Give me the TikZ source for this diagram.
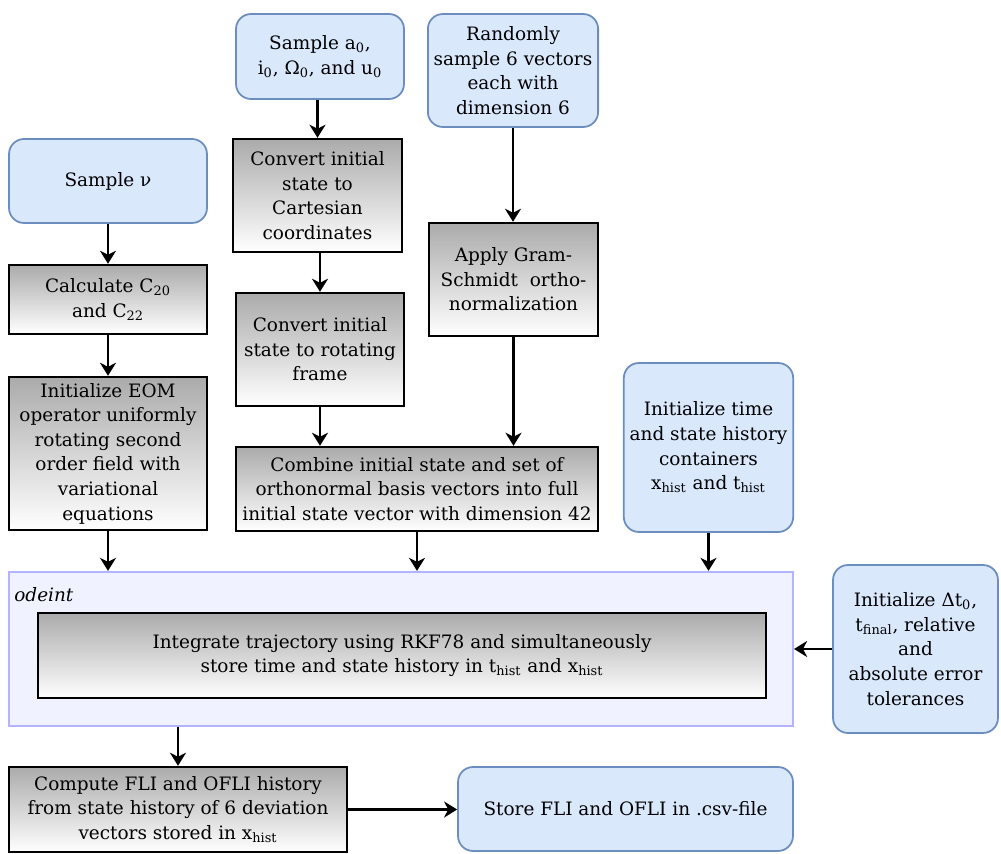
\documentclass[tikz,border=0pt]{standalone}
\usepackage{fontspec}
\setmainfont{DejaVu Serif}
\usepackage{xcolor}
\usepackage{tikz}
\usetikzlibrary{arrows.meta, positioning}
\definecolor{sampleblue}{HTML}{DAE8FC}
\definecolor{sampleedge}{HTML}{6C8EBF}
\definecolor{loopfill}{HTML}{F0F3FF}
\definecolor{loopedge}{HTML}{B3B3FF}
\tikzset{
flow/.style={-{Stealth[length=2.6mm, width=3.2mm, inset=0.8mm]}, line width=1.5pt}, % directed connectors
inputbox/.style={rounded corners=0.3cm, fill=sampleblue, draw=sampleedge, line width=1pt, align=center, font=\fontsize{10.5}{14}\selectfont}, % sampling / initialization steps
stepbox/.style={rectangle, top color=black!33, bottom color=white, draw=black, line width=1.4pt, align=center, font=\fontsize{10.5}{14}\selectfont}, % processing steps
loopbox/.style={rectangle, fill=loopfill, draw=loopedge, line width=1.3pt}, % integrator container
}

\begin{document}
\begin{tikzpicture}[x=0.02cm, y=-0.02cm]
    \useasboundingbox (0,0) rectangle (1001,854);

    % left column
    \node[inputbox, minimum width=3.96cm, minimum height=1.68cm] (sampleNu) at (108,181) {Sample ν};
    \node[stepbox, minimum width=3.96cm, minimum height=1.38cm] (calcC) at (108,299.5) {Calculate C\textsubscript{20}\\ and C\textsubscript{22}};
    \node[stepbox, minimum width=3.96cm, minimum height=3.06cm] (initEOM) at (108,453.5) {Initialize EOM\\ operator uniformly\\ rotating second\\ order field with\\ variational\\ equations};

    % middle columns
    \node[inputbox, minimum width=3.36cm, minimum height=1.7cm] (sampleA) at (320,56.5) {Sample a\textsubscript{0},\\ i\textsubscript{0}, Ω\textsubscript{0}, and u\textsubscript{0}};
    \node[stepbox, minimum width=3.38cm, minimum height=2.26cm] (convCart) at (317.5,195.5) {Convert initial\\ state to\\ Cartesian\\ coordinates};
    \node[stepbox, minimum width=3.36cm, minimum height=2.26cm] (convRot) at (320,349.5) {Convert initial\\ state to rotating\\ frame};
    \node[inputbox, minimum width=3.36cm, minimum height=2.26cm] (randVec) at (513,70.5) {Randomly\\ sample 6 vectors\\ each with\\ dimension 6};
    \node[stepbox, minimum width=3.38cm, minimum height=2.26cm] (gram) at (513.5,279.5) {Apply Gram-\\ Schmidt~ ortho-\\ normalization};
    \node[stepbox, minimum width=7.24cm, minimum height=1.68cm] (combine) at (417,489) {Combine initial state and set of\\ orthonormal basis vectors into full\\ initial state vector with dimension 42};

    % right column
    \node[inputbox, minimum width=3.38cm, minimum height=3.38cm] (initTime) at (708.5,447.5) {Initialize time\\ and state history\\ containers\\ x\textsubscript{hist} and t\textsubscript{hist}};

    % integrator
    \node[loopbox, minimum width=15.68cm, minimum height=3.08cm] (odeint) at (401,649) {};
    \node[anchor=north west, font=\fontsize{10.5}{14}\selectfont\itshape, inner sep=0pt] (odeintLabel) at (14,587) {odeint};
    \node[stepbox, minimum width=14.56cm, minimum height=1.7cm] (integ) at (402,655.5) {Integrate trajectory using RKF78 and simultaneously\\ store time and state history in t\textsubscript{hist} and x\textsubscript{hist}};
    \node[inputbox, minimum width=3.3cm, minimum height=3.36cm] (initDt) at (915.5,649) {Initialize Δt\textsubscript{0},\\ t\textsubscript{final}, relative\\ and\\ absolute error\\ tolerances};

    % output
    \node[stepbox, minimum width=6.76cm, minimum height=1.7cm] (compute) at (178,809.5) {Compute FLI and OFLI history\\ from state history of 6 deviation\\ vectors stored in x\textsubscript{hist}};
    \node[inputbox, minimum width=6.7cm, minimum height=1.68cm] (store) at (625.5,809) {Store FLI and OFLI in .csv-file};

    \draw[flow] (sampleNu) -- (calcC);
    \draw[flow] (calcC) -- (initEOM);
    \draw[flow] (initEOM.south) -- (initEOM.south |- odeint.north);
    \draw[flow] (sampleA.south -| convCart.north) -- (convCart.north);
    \draw[flow] (convCart.south -| convRot.north) -- (convRot.north);
    \draw[flow] (convRot.south) -- (convRot.south |- combine.north);
    \draw[flow] (randVec.south) -- (randVec.south |- gram.north);
    \draw[flow] (gram.south) -- (gram.south |- combine.north);
    \draw[flow] (combine.south) -- (combine.south |- odeint.north);
    \draw[flow] (initTime.south) -- (initTime.south |- odeint.north);
    \draw[flow] (initDt.west) -- (initDt.west -| odeint.east);
    \draw[flow] (compute.north |- odeint.south) -- (compute.north);
    \draw[flow] (compute.east) -- (compute.east -| store.west);

\end{tikzpicture}
\end{document}
